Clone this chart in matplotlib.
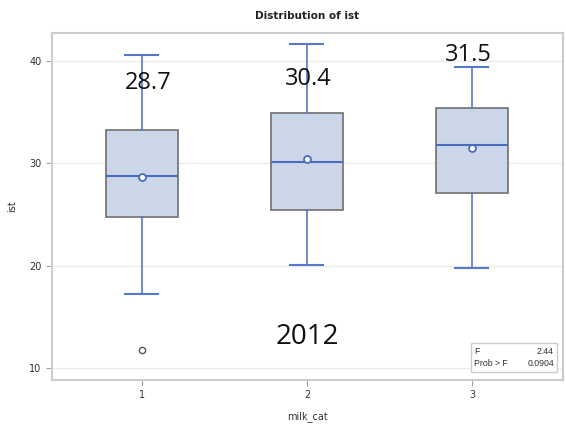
import matplotlib
matplotlib.use("Agg")
import matplotlib.pyplot as plt
from matplotlib.patches import Rectangle

categories = ["1", "2", "3"]
q1 = [24.75, 25.4, 27.1]
q3 = [33.25, 34.9, 35.4]
medians = [28.8, 30.1, 31.8]
means = [28.7, 30.4, 31.5]
whislo = [17.2, 20.05, 19.8]
whishi = [40.6, 41.7, 39.4]
fliers = [[11.75], [], []]
mean_labels = ["28.7", "30.4", "31.5"]
yticks = [10, 20, 30, 40]

fig = plt.figure(figsize=(5.66, 4.32), dpi=100)
ax = fig.add_axes([52/566, 52/432, 511/566, 347/432])

stats = []
for i in range(3):
    stats.append(dict(med=medians[i], q1=q1[i], q3=q3[i], whislo=whislo[i],
                      whishi=whishi[i], mean=means[i], fliers=fliers[i],
                      label=categories[i]))

blue = "#5878c8"
ax.bxp(stats, positions=[1, 2, 3], widths=0.44, patch_artist=True, showmeans=True,
       boxprops=dict(facecolor="#cbd7e8", edgecolor="#707070", linewidth=1.2),
       medianprops=dict(color="#4a6cc0", linewidth=1.5),
       whiskerprops=dict(color=blue, linewidth=1.2),
       capprops=dict(color=blue, linewidth=1.5),
       capwidths=0.2,
       meanprops=dict(marker="o", markerfacecolor="white", markeredgecolor="#4a6cc0",
                      markersize=5, markeredgewidth=1.3),
       flierprops=dict(marker="o", markerfacecolor="white", markeredgecolor="#555555",
                       markersize=4.5, markeredgewidth=1.0),
       zorder=3)

ax.set_xlim(0.455, 3.552)
ax.set_ylim(8.82, 42.74)
ax.set_yticks(yticks)
ax.set_yticklabels([str(t) for t in yticks])
ax.grid(axis="y", color="#ebebeb", linewidth=1.0, zorder=0)
ax.set_axisbelow(True)
for s in ax.spines.values():
    s.set_color("#cccccc")
    s.set_linewidth(1.5)
ax.tick_params(colors="#a0a0a0", labelcolor="#333333", labelsize=7, length=4)

ax.set_title("Distribution of ist", fontsize=7.5, fontweight="bold", pad=10, color="#222222")
ax.set_xlabel("milk_cat", fontsize=7, color="#333333", labelpad=8)
ax.set_ylabel("ist", fontsize=7, color="#333333", labelpad=9)

txt_pos = [(1.036, 37.85), (2.006, 38.2), (2.98, 40.6)]
for (x, y), lab in zip(txt_pos, mean_labels):
    ax.text(x, y, lab, fontsize=17, ha="center", va="center", color="#111111",
            family="Open Sans", zorder=5)
ax.text(2.003, 13.0, "2012", fontsize=20, ha="center", va="center", color="#111111",
        family="Open Sans", zorder=5)

# inset stats box
ax.add_patch(Rectangle((471/566, (432-372)/432), 86/566, 29/432, transform=fig.transFigure,
                       facecolor="white", edgecolor="#cccccc", linewidth=1.0, zorder=6))
fkw = dict(fontsize=6.3, color="#333333", va="center", family="Liberation Sans", zorder=7)
fig.text(474/566, (432-351)/432, "F", **fkw)
fig.text(554/566, (432-351)/432, "2.44", ha="right", **fkw)
fig.text(474/566, (432-364)/432, "Prob > F", **fkw)
fig.text(554/566, (432-364)/432, "0.0904", ha="right", **fkw)

fig.savefig("out.png", dpi=100)
